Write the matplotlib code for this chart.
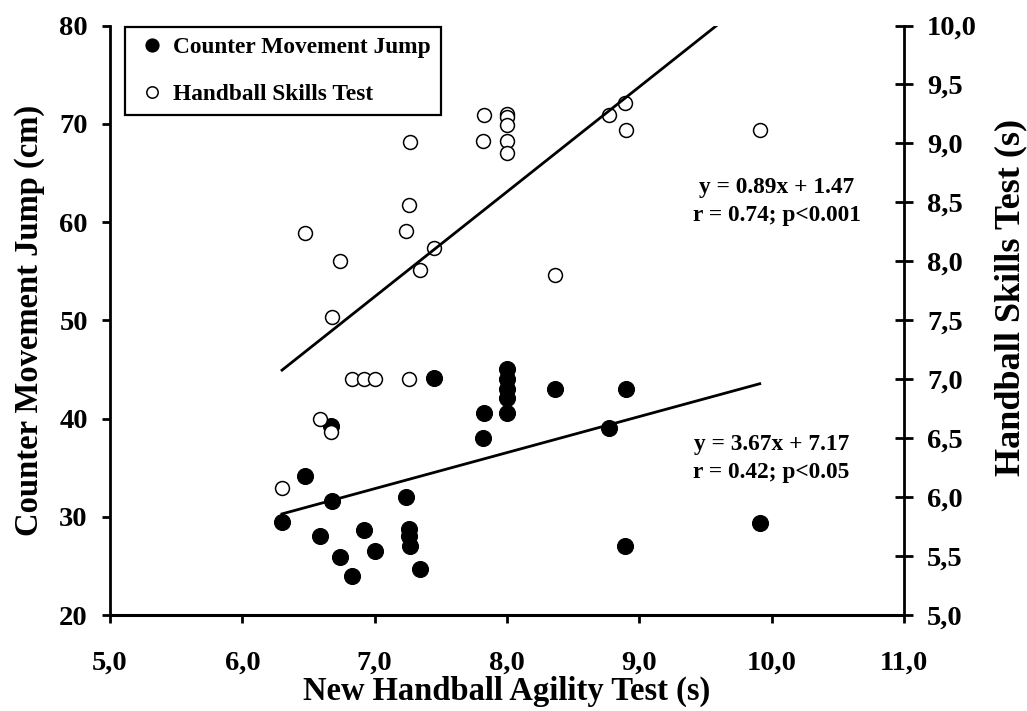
import numpy as np
import matplotlib.pyplot as plt

plt.rcParams['font.family'] = ['Liberation Serif', 'DejaVu Serif']
plt.rcParams['font.weight'] = 'bold'

# New Handball Agility Test time (s) per player
agility = [6.30, 6.47, 6.59, 6.67, 6.68, 6.74, 6.83, 6.92, 7.00, 7.24, 7.26, 7.26, 7.27, 7.34,
           7.45, 7.82, 7.83, 8.00, 8.00, 8.00, 8.00, 8.00, 8.36, 8.77, 8.89, 8.90, 9.91]
# Counter movement jump height (cm), left axis
cmj = [29.5, 34.1, 28.0, 39.2, 31.6, 25.9, 24.0, 28.7, 26.5, 32.0, 28.8, 28.0, 27.0, 24.7,
       44.1, 38.0, 40.6, 45.0, 44.0, 43.0, 42.1, 40.6, 43.0, 39.0, 27.0, 43.0, 29.4]
# Handball skills test time (s), right axis
skills = [6.08, 8.24, 6.66, 6.55, 7.53, 8.00, 7.00, 7.00, 7.00, 8.26, 8.48, 7.00, 9.01, 7.93,
          8.11, 9.02, 9.24, 9.25, 9.22, 9.16, 9.02, 8.92, 7.88, 9.24, 9.34, 9.11, 9.11]

# linear fits: (slope, intercept)
cmj_fit = (3.67, 7.17)
skills_fit = (0.89, 1.47)
cmj_note = 'y = 3.67x + 7.17\nr = 0.42; p<0.05'
skills_note = 'y = 0.89x + 1.47\nr = 0.74; p<0.001'

x_ticks = [5, 6, 7, 8, 9, 10, 11]
x_tick_labels = ['5,0', '6,0', '7,0', '8,0', '9,0', '10,0', '11,0']
cmj_ticks = [20, 30, 40, 50, 60, 70, 80]
skills_ticks = [5.0, 5.5, 6.0, 6.5, 7.0, 7.5, 8.0, 8.5, 9.0, 9.5, 10.0]
skills_tick_labels = ['5,0', '5,5', '6,0', '6,5', '7,0', '7,5', '8,0', '8,5', '9,0', '9,5', '10,0']

TICK_FS = 20.5
LABEL_FS = 23.5
NOTE_FS = 16.8

fig = plt.figure(figsize=(10.27, 7.11), dpi=100)
ax = fig.add_axes([0.1071, 0.135, 0.7731, 0.8291])
ax2 = ax.twinx()

ax.set_xlim(5, 11)
ax.set_ylim(20, 80)
ax2.set_ylim(5, 10)

xs = np.array([min(agility), max(agility)])

# jump height: filled markers + fit line
ax.plot(agility, cmj, 'o', color='black', markersize=11.5, markeredgewidth=0.8,
        linestyle='none', label='Counter Movement Jump', zorder=2)
ax.plot(xs, cmj_fit[0] * xs + cmj_fit[1], color='black', linewidth=2, zorder=3)

# skills test: open markers + fit line (clipped at the top of the axis)
ax2.plot(agility, skills, 'o', markerfacecolor='white', markeredgecolor='black',
         markersize=10, markeredgewidth=1.1, linestyle='none',
         label='Handball Skills Test', zorder=2)
ax2.plot(xs, skills_fit[0] * xs + skills_fit[1], color='black', linewidth=2, zorder=3)

ax.text(10.04, 62.1, skills_note, ha='center', va='center', fontsize=NOTE_FS,
        fontweight='bold', linespacing=1.42)
ax.text(10.0, 35.9, cmj_note, ha='center', va='center', fontsize=NOTE_FS,
        fontweight='bold', linespacing=1.42)

# axes, ticks and spines
ax.set_xticks(x_ticks)
ax.set_xticklabels(x_tick_labels)
ax.set_yticks(cmj_ticks)
ax2.set_yticks(skills_ticks)
ax2.set_yticklabels(skills_tick_labels)

ax.tick_params(axis='x', direction='out', length=6, width=2, pad=20, labelsize=TICK_FS)
ax.tick_params(axis='y', direction='out', length=6, width=2, pad=10, labelsize=TICK_FS)
ax2.tick_params(axis='y', direction='inout', length=13, width=2, pad=10, labelsize=TICK_FS)

for side in ['top', 'right']:
    ax.spines[side].set_visible(False)
for side in ['top', 'left', 'bottom']:
    ax2.spines[side].set_visible(False)
ax.spines['left'].set_linewidth(2)
ax.spines['bottom'].set_linewidth(2.2)
ax2.spines['right'].set_linewidth(2)

ax.set_xlabel('New Handball Agility Test (s)', fontsize=LABEL_FS, fontweight='bold', labelpad=0)
ax.set_ylabel('Counter Movement Jump (cm)', fontsize=LABEL_FS, fontweight='bold')
ax2.set_ylabel('Handball Skills Test (s)', fontsize=26, fontweight='bold', rotation=90)
ax.yaxis.set_label_coords(-0.1008, 0.5)
ax.yaxis.label.set_verticalalignment('center')
ax2.yaxis.set_label_coords(1.134, 0.539)
ax2.yaxis.label.set_verticalalignment('center')

handles = ax.get_legend_handles_labels()[0] + ax2.get_legend_handles_labels()[0]
labels = [h.get_label() for h in handles]
leg = ax2.legend(handles, labels, loc='upper left', bbox_to_anchor=(0.019, 0.997),
                 borderaxespad=0, fancybox=False, framealpha=1, edgecolor='black',
                 prop={'size': NOTE_FS, 'weight': 'bold'}, markerscale=0.82,
                 handlelength=1.45, handletextpad=0.2, labelspacing=1.1, borderpad=0.42)
leg.get_frame().set_linewidth(1.6)

fig.savefig('out.png', dpi=100)
